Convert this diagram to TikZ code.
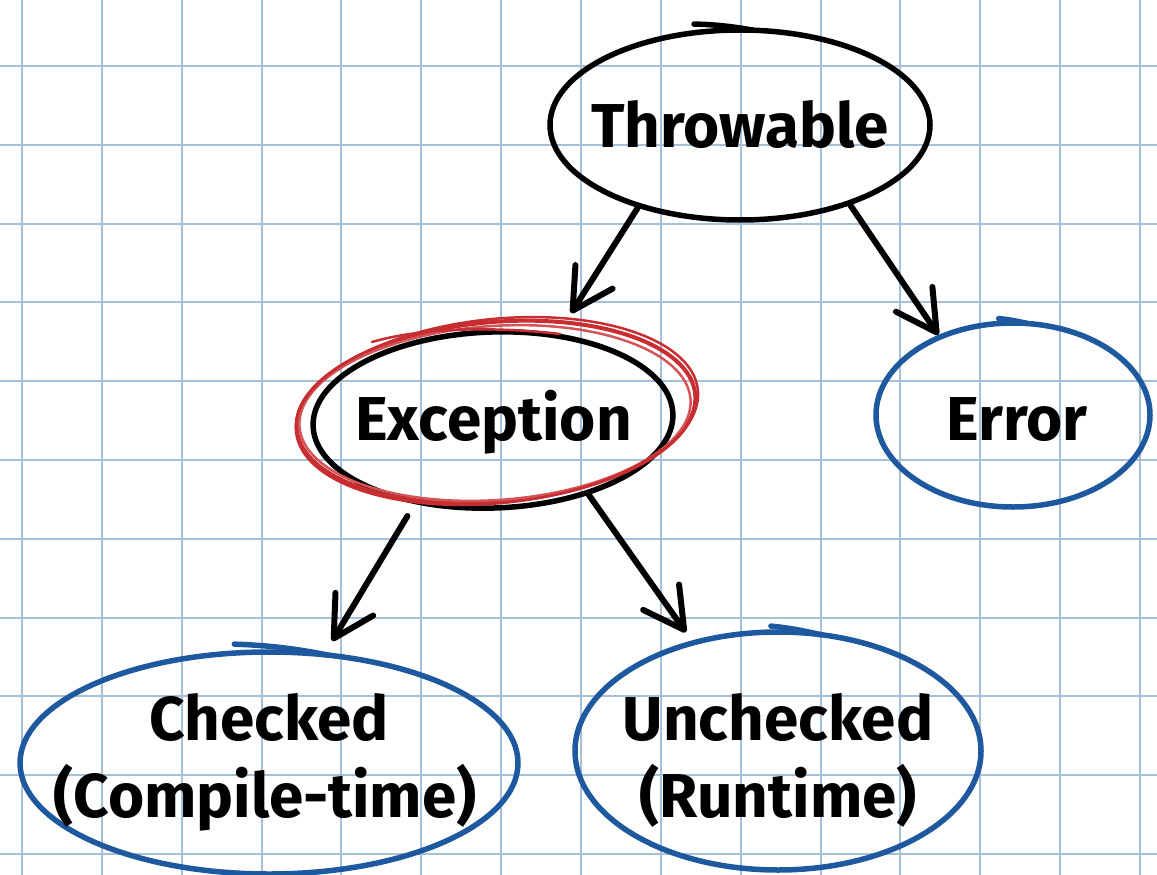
\documentclass[tikz,border=0pt]{standalone}
\usepackage{fontspec}
\setmainfont{Fira Sans}
\usetikzlibrary{arrows.meta,shapes.geometric}
\definecolor{gridc}{RGB}{165,192,215}
\definecolor{inkblue}{RGB}{30,88,158}
\definecolor{inkred}{RGB}{200,45,50}
\definecolor{inkredl}{RGB}{212,85,88}
\begin{document}
\begin{tikzpicture}[x=1pt,y=-1pt,
  ell/.style={ellipse, draw, line width=5.5pt, inner sep=0pt},
  blueell/.style={ell, draw=inkblue},
  lbl/.style={font=\fontsize{62}{74}\selectfont\bfseries, inner sep=0pt, anchor=base},
  arr/.style={line width=6pt, line cap=round, -{Straight Barb[length=40pt,width=44pt,line width=6pt,round]}},
  gridline/.style={gridc, line width=2pt},
  hook/.style={line width=5.5pt, line cap=round},
  redring/.style={draw=inkred, line width=4pt}
]
\fill[white] (0,0) rectangle (1157,875);
\useasboundingbox (0,0) rectangle (1157,875);
% graph paper
\foreach \i in {0,...,14} \draw[gridline] ({22+79.85*\i},0) -- ({22+79.85*\i},875);
\foreach \j in {0,...,10} \draw[gridline] (0,{66+78.8*\j}) -- (1157,{66+78.8*\j});

% ellipses
\node[ell, minimum width=380pt, minimum height=190pt] (thr) at (740,125) {};
\node[ell, minimum width=360pt, minimum height=176pt, rotate=2] (exc) at (493,420) {};
\node[blueell, minimum width=274pt, minimum height=184pt] (err) at (1013,415) {};
\node[blueell, minimum width=498pt, minimum height=222pt] (chk) at (269,763) {};
\node[blueell, minimum width=406pt, minimum height=238pt] (unc) at (778,751) {};

% hand-drawn overlaps
\draw[hook] plot[domain=86:104, samples=20] ({740+190*cos(\x)},{125-(95+9*(\x-86)/18)*sin(\x)});
\draw[hook, inkblue] plot[domain=84:96, samples=12] ({1013+137*cos(\x)},{415-(92+5*(\x-84)/12)*sin(\x)});
\draw[hook, inkblue] plot[domain=76:98, samples=20] ({269+249*cos(\x)},{763-(111+9*(\x-76)/22)*sin(\x)});
\draw[hook, inkblue] plot[domain=78:92, samples=14] ({778+203*cos(\x)},{751-(119+6*(\x-78)/14)*sin(\x)});

% red highlight around Exception
\draw[redring, rotate around={5:(496,412)}] (496,412) ellipse (200 and 90);
\draw[draw=inkredl, line width=2.5pt, rotate around={4:(495,413)}] (495,413) ellipse (196 and 87);
\draw[draw=inkred, line width=2.5pt, rotate around={6:(497,411)}] (497,411) ellipse (202 and 92);
\draw[draw=inkred, line width=2.5pt, line cap=round] (372,342) .. controls (420,328) and (490,326) .. (560,334);

% arrows
\draw[arr, shorten >=24pt] (thr.219) -- (exc.51.7);
\draw[arr] (thr.324) -- (err.133.5);
\draw[arr, shorten <=14pt, shorten >=13pt] (exc.225.4) -- (chk.63.1);
\draw[arr, shorten >=10pt] (exc.320.4) -- (unc.128.1);

% labels
\node[lbl] (thrT) at (740,147) {Throwable};
\node[lbl] (excT) at (493.5,440) {Exception};
\node[lbl] (errT) at (1017,440) {Error};
\node[lbl] (chkT1) at (269,740) {Checked};
\node[lbl] (chkT2) at (265,817) {(Compile-time)};
\node[lbl] (uncT1) at (778,740) {Unchecked};
\node[lbl] (uncT2) at (778,817) {(Runtime)};
\end{tikzpicture}
\end{document}
